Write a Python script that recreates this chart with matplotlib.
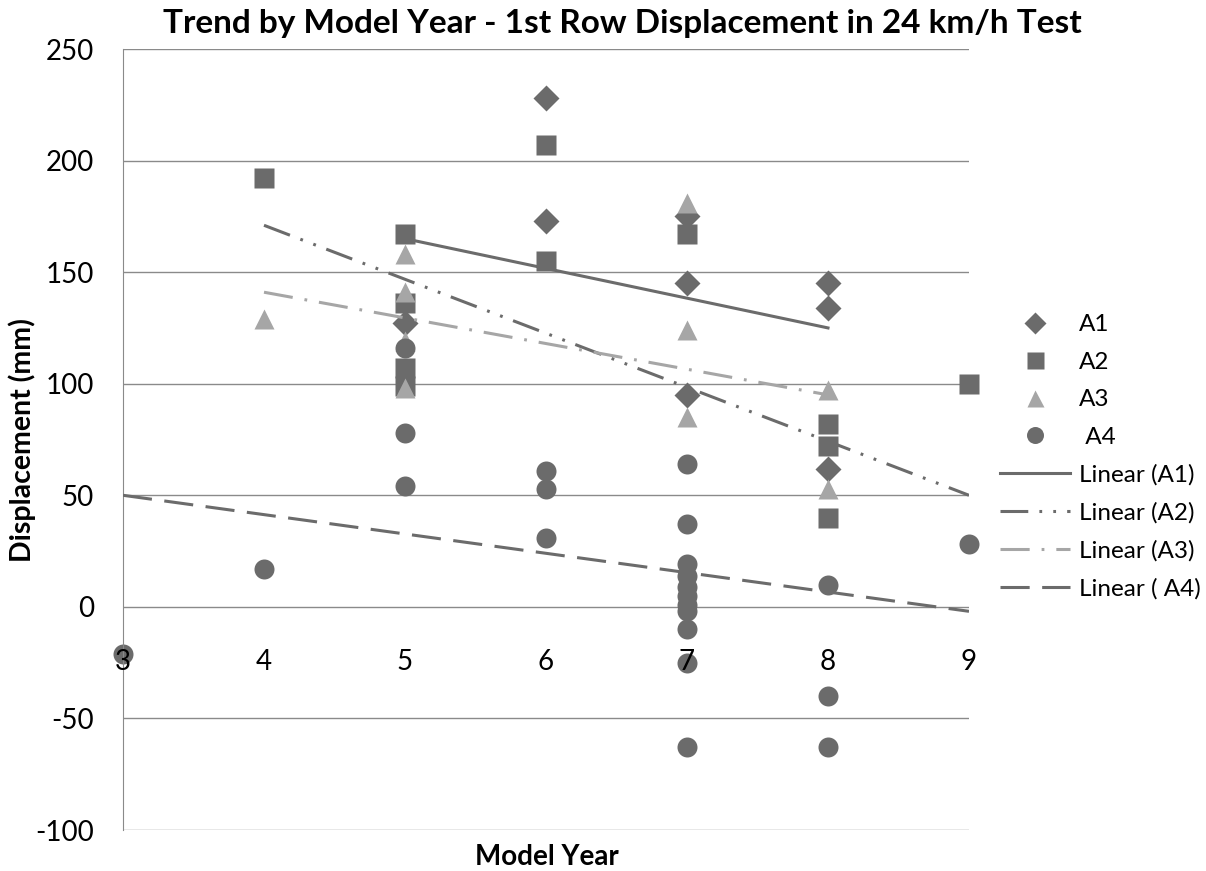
import matplotlib
matplotlib.use("Agg")
import matplotlib.pyplot as plt

plt.rcParams['font.family'] = ['Lato', 'DejaVu Sans']
plt.rcParams['lines.scale_dashes'] = False
plt.rcParams['axes.unicode_minus'] = False

# scatter data (model year, displacement in mm)
a1_x = [5, 6, 6, 7, 7, 7, 8, 8, 8]
a1_y = [127, 228, 173, 175, 145, 95, 145, 134, 62]

a2_x = [4, 5, 5, 5, 5, 6, 6, 7, 8, 8, 8, 9]
a2_y = [192, 167, 136, 107, 99, 207, 155, 167, 82, 72, 40, 100]

a3_x = [4, 5, 5, 5, 5, 7, 7, 7, 8, 8]
a3_y = [129, 158, 141, 119, 98, 181, 124, 85, 97, 53]

a4_x = [3, 4, 5, 5, 5, 6, 6, 6, 7, 7, 7, 7, 7, 7, 7, 7, 7, 7, 7, 8, 8, 8, 9]
a4_y = [-21, 17, 116, 78, 54, 61, 53, 31, 64, 37, 19, 14, 9, 5, 1, -2, -10, -25, -63, 10, -40, -63, 28]

# trend line ends as drawn by the spreadsheet
trend_x = {'A1': [5, 8], 'A2': [4, 9], 'A3': [4, 8], 'A4': [3, 9]}
trend_y = {'A1': [165, 125], 'A2': [171, 50], 'A3': [141, 95], 'A4': [50, -2]}

x_ticks = [3, 4, 5, 6, 7, 8, 9]
y_ticks = [-100, -50, 0, 50, 100, 150, 200, 250]

dark = '#6b6b6b'
light = '#a6a6a6'

fig = plt.figure(figsize=(12.06, 8.71), dpi=100)
ax = fig.add_axes([123 / 1206, 1 - 830 / 871, (969 - 123) / 1206, (830 - 49) / 871])

ax.set_xlim(3, 9)
ax.set_ylim(-100, 250)
ax.set_yticks(y_ticks)
ax.set_xticks(x_ticks)
ax.yaxis.grid(True, color='#8a8a8a', linewidth=1.0)
ax.set_axisbelow(True)
ax.xaxis.set_zorder(5)  # year labels sit over the markers

for s in ['top', 'right']:
    ax.spines[s].set_visible(False)
ax.spines['left'].set_color('#8a8a8a')
ax.spines['bottom'].set_position(('data', 0))
ax.spines['bottom'].set_visible(False)
ax.tick_params(axis='y', length=0, pad=21, labelsize=20, colors='black')
ax.tick_params(axis='x', length=0, pad=30, labelsize=20, colors='black')

h1, = ax.plot(a1_x, a1_y, 'D', ms=13, color=dark, mec='none', ls='none', label='A1', clip_on=False, zorder=2)
h2, = ax.plot(a2_x, a2_y, 's', ms=14.4, color=dark, mec='none', ls='none', label='A2', clip_on=False, zorder=2)
h3, = ax.plot(a3_x, a3_y, '^', ms=14.4, color=light, mec='none', ls='none', label='A3', clip_on=False, zorder=2)
h4, = ax.plot(a4_x, a4_y, 'o', ms=14.4, color=dark, mec='none', ls='none', label=' A4', clip_on=False, zorder=2)

l1, = ax.plot(trend_x['A1'], trend_y['A1'], color=dark, lw=2.2, ls='-', label='Linear (A1)', zorder=3)
l2, = ax.plot(trend_x['A2'], trend_y['A2'], color=dark, lw=2.2, ls=(0, (20, 8, 2, 8, 2, 8)), label='Linear (A2)', zorder=3)
l3, = ax.plot(trend_x['A3'], trend_y['A3'], color=light, lw=2.2, ls=(0, (21, 8.6, 2, 8.6)), label='Linear (A3)', zorder=3)
l4, = ax.plot(trend_x['A4'], trend_y['A4'], color=dark, lw=2.2, ls=(0, (21, 9)), label='Linear ( A4)', zorder=3)

fig.text(622 / 1206, 1 - 23 / 871, 'Trend by Model Year - 1st Row Displacement in 24 km/h Test',
         ha='center', va='center', fontsize=24, fontweight='bold')
fig.text(547 / 1206, 1 - 857 / 871, 'Model Year', ha='center', va='center', fontsize=20, fontweight='bold')
fig.text(22 / 1206, 1 - 440 / 871, 'Displacement (mm)', ha='center', va='center', rotation=90,
         fontsize=20.5, fontweight='bold')

fig.legend(handles=[h1, h2, h3, h4, l1, l2, l3, l4], loc='center left',
           bbox_to_anchor=(1000 / 1206, 1 - 457 / 871), frameon=False, fontsize=17.5,
           borderpad=0, borderaxespad=0, handlelength=2.9, handletextpad=0.34,
           labelspacing=0.68, numpoints=1, markerscale=0.85)

fig.savefig('out.png', dpi=100)
